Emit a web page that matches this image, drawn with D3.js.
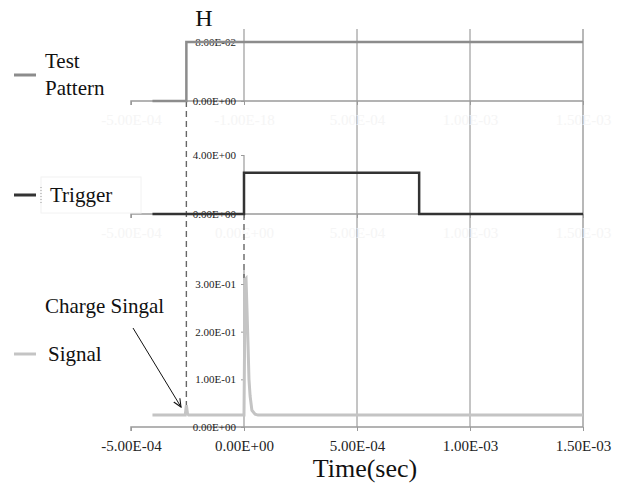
<!DOCTYPE html>
<html>
<head>
<meta charset="utf-8">
<script src="https://cdn.jsdelivr.net/npm/d3@7"></script>
<style>
  body { margin: 0; background: #fff; }
  svg { display: block; }
  text { font-family: "Liberation Serif", "DejaVu Serif", serif; }
</style>
</head>
<body>
<div id="chart"></div>
<script>
// data
var xTicks = [-5e-4, 0, 5e-4, 1e-3, 1.5e-3];
var xLabels = ["-5.00E-04", "0.00E+00", "5.00E-04", "1.00E-03", "1.50E-03"];
var xLabelsTop = ["-5.00E-04", "-1.00E-18", "5.00E-04", "1.00E-03", "1.50E-03"];

var testTime = [-4.05e-4, -2.55e-4, -2.55e-4, 1.5e-3];
var testValue = [0, 0, 0.08, 0.08];
var testTicks = [0, 0.08];
var testLabels = ["0.00E+00", "8.00E-02"];

var trigTime = [-4.05e-4, 0, 0, 7.75e-4, 7.75e-4, 1.5e-3];
var trigValue = [0, 0, 2.8, 2.8, 0, 0];
var trigTicks = [0, 4];
var trigLabels = ["0.00E+00", "4.00E+00"];

var sigTime = [-4.05e-4, -2.6e-4, -2.55e-4, -2.5e-4, -2.45e-4, 0, 0.5e-5, 0.9e-5, 1.3e-5, 1.8e-5, 2.2e-5, 2.7e-5, 3.5e-5, 4.9e-5, 6.2e-5, 1.5e-3];
var sigValue = [0.025, 0.025, 0.046, 0.028, 0.025, 0.025, 0.31, 0.312, 0.25, 0.17, 0.10, 0.065, 0.035, 0.027, 0.025, 0.025];
var sigTicks = [0, 0.1, 0.2, 0.3];
var sigLabels = ["0.00E+00", "1.00E-01", "2.00E-01", "3.00E-01"];

var markerTimes = [-2.55e-4, 0];

var W = 621, H = 483;
var svg = d3.select("#chart").append("svg").attr("width", W).attr("height", H);
var serif = "Liberation Serif";

var x = d3.scaleLinear().domain([-5e-4, 1.5e-3]).range([131, 583]);
var y1 = d3.scaleLinear().domain([0, 0.08]).range([101, 42]);
var y2 = d3.scaleLinear().domain([0, 4]).range([214, 155]);
var y3 = d3.scaleLinear().domain([0, 0.3]).range([427, 284]);

function zip(t, v) {
    return t.map(function(d, i) { return [d, v[i]]; });
}

// vertical gridlines running through all three panels
svg.append("g").selectAll("line")
    .data(xTicks.filter(function(d) { return d > 0; }))
    .enter().append("line")
    .attr("x1", function(d) { return x(d); })
    .attr("x2", function(d) { return x(d); })
    .attr("y1", 29)
    .attr("y2", 427)
    .attr("stroke", function(d, i) { return i == 2 ? "#b8b8b8" : "#8a8a8a"; })
    .attr("stroke-width", function(d, i) { return i == 2 ? 2 : 1; });

// x axes of each panel
function xAxis(yPos, labels, color) {
    var g = svg.append("g")
        .attr("transform", "translate(0," + yPos + ")")
        .call(d3.axisBottom(x).tickValues(xTicks).tickSize(4).tickPadding(9)
            .tickFormat(function(d, i) { return labels[i]; }));
    g.attr("font-family", serif);
    g.select(".domain").attr("stroke", "#9a9a9a").attr("stroke-width", 1.5)
        .attr("d", "M131,4V0H583");
    g.selectAll(".tick line").attr("stroke", "#9a9a9a");
    g.selectAll("text").attr("fill", color).attr("font-family", serif).style("font-size", "15px");
    return g;
}
xAxis(101, xLabelsTop, "#f5f5f5");
xAxis(214, xLabels, "#f5f5f5");
xAxis(427, xLabels, "#222");

// y axes at t = 0
function yAxis(scale, ticks, labels, top) {
    var g = svg.append("g")
        .attr("transform", "translate(" + x(0) + ",0)")
        .call(d3.axisLeft(scale).tickValues(ticks).tickSize(3).tickPadding(5)
            .tickFormat(function(d, i) { return labels[i]; }));
    g.attr("font-family", serif);
    g.select(".domain").attr("stroke", "#9a9a9a").attr("stroke-width", 1.2)
        .attr("d", "M0," + top + "V" + scale(0));
    g.selectAll(".tick line").attr("stroke", "#9a9a9a");
    g.selectAll("text").attr("fill", "#222").style("font-size", "11px");
    return g;
}
yAxis(y1, testTicks, testLabels, 29);
yAxis(y2, trigTicks, trigLabels, 155);
yAxis(y3, sigTicks, sigLabels, 270);

// dashed markers
var dashes = [[markerTimes[0], y1(0), 410], [markerTimes[1], y2(0), 278]];
svg.append("g").selectAll("line")
    .data(dashes)
    .enter().append("line")
    .attr("x1", function(d) { return x(d[0]); })
    .attr("x2", function(d) { return x(d[0]); })
    .attr("y1", function(d) { return d[1]; })
    .attr("y2", function(d) { return d[2]; })
    .attr("stroke", "#666")
    .attr("stroke-width", 1.4)
    .attr("stroke-dasharray", "6,4");

// series
function drawLine(t, v, scale, color, width) {
    svg.append("path")
        .datum(zip(t, v))
        .attr("fill", "none")
        .attr("stroke", color)
        .attr("stroke-width", width)
        .attr("d", d3.line()
            .x(function(d) { return x(d[0]); })
            .y(function(d) { return scale(d[1]); }));
}
drawLine(testTime, testValue, y1, "#8c8c8c", 2.5);
drawLine(trigTime, trigValue, y2, "#333", 2.5);
drawLine(sigTime, sigValue, y3, "#c4c4c4", 3);

// legend
var legend = [
    { color: "#8c8c8c", y: 75, lines: ["Test", "Pattern"], tx: 45, ty: 68 },
    { color: "#333", y: 195, lines: ["Trigger"], tx: 50, ty: 202 },
    { color: "#c4c4c4", y: 354, lines: ["Signal"], tx: 48, ty: 361 }
];
svg.append("rect")
    .attr("x", 41).attr("y", 177).attr("width", 100).attr("height", 36)
    .attr("fill", "none").attr("stroke", "#f2f2f2").attr("stroke-width", 1);
svg.append("line")
    .attr("x1", 41).attr("x2", 41).attr("y1", 187).attr("y2", 203)
    .attr("stroke", "#999").attr("stroke-dasharray", "1,2");
legend.forEach(function(l) {
    svg.append("line")
        .attr("x1", 14).attr("x2", 36).attr("y1", l.y).attr("y2", l.y)
        .attr("stroke", l.color).attr("stroke-width", 3);
    var t = svg.append("text")
        .attr("x", l.tx).attr("y", l.ty)
        .style("font-size", "21px").attr("fill", "#111");
    l.lines.forEach(function(s, i) {
        t.append("tspan").attr("x", l.tx).attr("dy", i == 0 ? 0 : 27).text(s);
    });
});

// annotation
svg.append("defs").append("marker")
    .attr("id", "arrow")
    .attr("viewBox", "0 0 10 10")
    .attr("refX", 9).attr("refY", 5)
    .attr("markerWidth", 9).attr("markerHeight", 9)
    .attr("orient", "auto")
    .append("path")
    .attr("d", "M0,1L9,5L0,9")
    .attr("fill", "none").attr("stroke", "#111").attr("stroke-width", 1.2);
svg.append("text")
    .attr("x", 45).attr("y", 313)
    .style("font-size", "21px").attr("fill", "#111")
    .text("Charge Singal");
svg.append("line")
    .attr("x1", 133).attr("y1", 328).attr("x2", 181).attr("y2", 407)
    .attr("stroke", "#111").attr("stroke-width", 1)
    .attr("marker-end", "url(#arrow)");

// titles
svg.append("text")
    .attr("x", 204).attr("y", 26).attr("text-anchor", "middle")
    .style("font-size", "24px").attr("fill", "#111")
    .text("H");
svg.append("text")
    .attr("x", 365).attr("y", 477).attr("text-anchor", "middle")
    .style("font-size", "26px").attr("fill", "#111")
    .text("Time(sec)");
</script>
</body>
</html>
